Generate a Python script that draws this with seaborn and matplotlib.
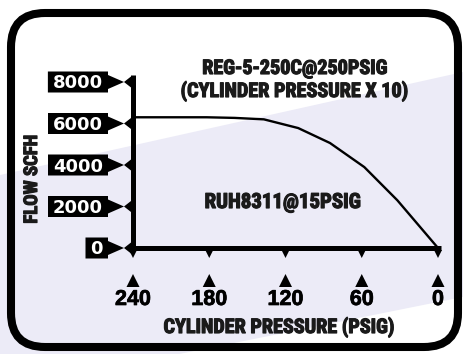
import numpy as np
import matplotlib
matplotlib.use("Agg")
import matplotlib.pyplot as plt
import matplotlib.transforms as mtransforms
import matplotlib.patheffects as pe
from matplotlib.patches import Polygon, FancyBboxPatch
import seaborn as sns

# Regulator flow curve: flow (SCFH) against falling cylinder pressure (PSIG)
pressure = [240, 200, 182, 160, 137, 110, 85, 58, 32, 0]
flow = [6300, 6300, 6300, 6270, 6200, 5780, 5060, 3900, 2300, 0]

x_ticks = [240, 180, 120, 60, 0]
x_tick_labels = ["240", "180", "120", "60", "0"]
y_ticks = [0, 2000, 4000, 6000, 8000]
y_tick_labels = ["0", "2000", "4000", "6000", "8000"]

title_lines = ["REG-5-250C@250PSIG", "(CYLINDER PRESSURE X 10)"]
curve_label = "RUH8311@15PSIG"
x_title = "CYLINDER PRESSURE (PSIG)"
y_title = "FLOW SCFH"

W, H, DPI = 463, 354, 100
LAVENDER = "#ECEBF7"

sns.set_theme(style="white")
NARROW = ["Roboto Condensed", "DejaVu Sans"]
WIDE = ["Liberation Sans", "DejaVu Sans"]
plt.rcParams["font.family"] = ["DejaVu Sans"]

fig = plt.figure(figsize=(W / DPI, H / DPI), dpi=DPI)
fig.patch.set_facecolor("white")

# backdrop panel, laid out in pixel units
bg = fig.add_axes([0, 0, 1, 1], zorder=0)
bg.set_xlim(0, W)
bg.set_ylim(H, 0)
bg.axis("off")
bg.add_patch(Polygon([(0, 175), (W, 72), (W, 297), (0, 390)], closed=True,
                     facecolor=LAVENDER, edgecolor="none"))
bg.add_patch(FancyBboxPatch((11, 13), 447, 334,
                            boxstyle="round,pad=0,rounding_size=34",
                            facecolor="none", edgecolor="black", linewidth=5.8))

# plotting area
L, R, T, B = 133, 438, 82, 248
ax = fig.add_axes([L / W, 1 - B / H, (R - L) / W, (B - T) / H], zorder=1)
ax.patch.set_visible(False)
sns.lineplot(x=pressure, y=flow, ax=ax, color="black", linewidth=1.7)
ax.set_xlim(max(x_ticks), min(x_ticks))
ax.set_ylim(min(y_ticks), max(y_ticks))
ax.axis("off")

upp_x = (max(x_ticks) - min(x_ticks)) / ax.bbox.width
upp_y = (max(y_ticks) - min(y_ticks)) / ax.bbox.height
x0, y0 = max(x_ticks), min(y_ticks)

# heavy axis lines
ax.plot([x0, x0], [y0 - 2 * upp_y, max(y_ticks) + 7 * upp_y], color="black",
        lw=3.6, solid_capstyle="butt", clip_on=False)
ax.plot([x0 + 2 * upp_x, min(x_ticks) - 3 * upp_x], [y0, y0], color="black",
        lw=3.6, solid_capstyle="butt", clip_on=False)


def anchored(x, y):
    """Transform for pixel offsets measured from a data point."""
    return fig.dpi_scale_trans + mtransforms.ScaledTranslation(x, y, ax.transData)


def shape(verts, x, y, **kw):
    p = Polygon(np.asarray(verts, dtype=float) / DPI, closed=True,
                transform=anchored(x, y), facecolor="black", edgecolor="none",
                clip_on=False, **kw)
    ax.add_patch(p)


# x ticks: notch under the axis, pointer and number below
num_heavy = [pe.withStroke(linewidth=0.5, foreground="black")]
for xt, lab in zip(x_ticks, x_tick_labels):
    shape([(-4, -2), (4, -2), (0, -10)], xt, y0)
    shape([(-6.5, -39), (6.5, -39), (0, -26)], xt, y0)
    ax.text(0, -57 / DPI, lab, transform=anchored(xt, y0), ha="center",
            va="baseline", fontsize=15.5, fontweight="bold", family=WIDE,
            color="black", path_effects=num_heavy)

# y ticks: white numbers in black pointer tags
tick_texts = []
for yt, lab in zip(y_ticks, y_tick_labels):
    t = ax.text(-30 / DPI, -6.5 / DPI, lab, transform=anchored(x0, yt),
                ha="right", va="baseline", fontsize=13, fontweight="bold",
                family=["DejaVu Sans"], color="white", zorder=5)
    tick_texts.append((yt, t))

fig.canvas.draw()
renderer = fig.canvas.get_renderer()
for yt, t in tick_texts:
    w = t.get_window_extent(renderer).width * DPI / fig.dpi
    left = -30 - w - 5
    shape([(left, 10.5), (-25, 10.5), (-25, 7), (-9, 0), (-25, -7),
           (-25, -10.5), (left, -10.5)], x0, yt, zorder=4)
    shape([(-9, 0), (-2, 5.5), (-2, -5.5)], x0, yt, zorder=4)

# titles and labels, set in a heavy condensed face
heavy = [pe.withStroke(linewidth=0.85, foreground="#1a1a1a")]
lab_kw = dict(ha="center", va="baseline", fontweight="bold", family=NARROW,
              fontstretch="condensed", color="#1a1a1a", path_effects=heavy)
bg.text(294.5, 74, title_lines[0], fontsize=14.5, **lab_kw)
bg.text(294, 97, title_lines[1], fontsize=14.5, **lab_kw)
bg.text(283, 208, curve_label, fontsize=15, **lab_kw)
bg.text(278.5, 333, x_title, fontsize=14.5, **lab_kw)
bg.text(37, 179, y_title, rotation=90, rotation_mode="anchor", fontsize=13.5,
        **lab_kw)

fig.savefig("out.png", dpi=DPI, facecolor="white")
